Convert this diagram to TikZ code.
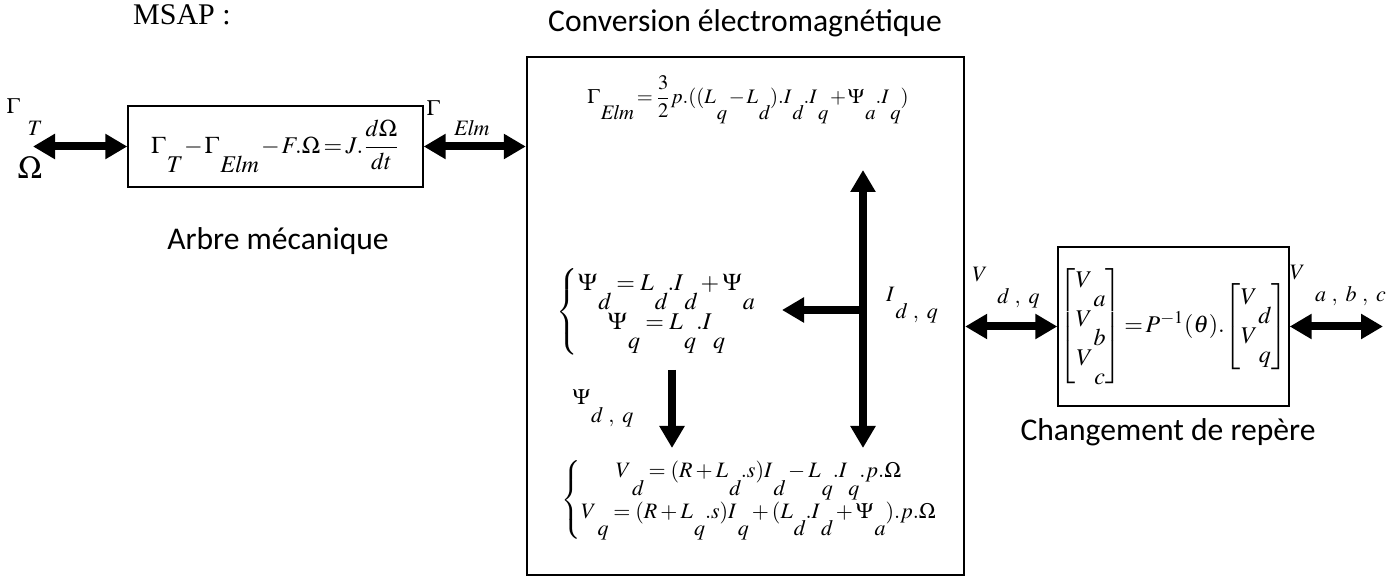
\documentclass[tikz,border=0pt]{standalone}
\usepackage{amsmath}
\usepackage{mathptmx}
\usepackage[no-math]{fontspec}
\setmainfont{Liberation Serif}
\newfontfamily\calib{Carlito}
\usetikzlibrary{arrows.meta}
\newcommand\lo[2][.8em]{\kern.05em\lower#1\hbox{$\mathit{#2}$}}
\newcommand\tight{\medmuskip=1.5mu\thickmuskip=2.5mu}
\tikzset{
 dbl/.style={{Triangle[length=11pt,width=12pt]}-{Triangle[length=11pt,width=12pt]},line width=4pt},
 sgl/.style={-{Triangle[length=11pt,width=12pt]},line width=4pt},
 lbl/.style={font=\calib\fontsize{15.8}{18}\selectfont},
 blk/.style={draw,line width=.7pt,inner sep=0pt}
}
\begin{document}
\begin{tikzpicture}[x=.5pt,y=-.5pt,font=\fontsize{11}{13}\selectfont]
 \useasboundingbox (0,0) rectangle (1398,576);
 \node[font=\fontsize{15}{17}\selectfont] (msap) at (182,15) {MSAP :};
 % arbre mecanique
 \node[blk,minimum width=147.5pt,minimum height=40.5pt,font=\fontsize{12}{14}\selectfont] (meca) at (275.5,146.5) {$\tight\Gamma\lo{T}-\Gamma\lo{Elm}-F.\Omega=J.\dfrac{d\Omega}{dt}$};
 \node[lbl] (tmeca) at (278,241) {Arbre mécanique};
 \node (gt) at (24,117) {$\Gamma\kern.3em\lo[1em]{T}$};
 \node[font=\fontsize{16}{18}\selectfont] (om) at (30,168) {$\Omega$};
 \node (ge) at (458,118) {$\Gamma\kern.6em\lo[.9em]{Elm}$};
 \coordinate (ext) at (33,147);
 \draw[dbl] (ext |- meca.west) -- (meca.west);
 % conversion
 \node[blk,line width=1.2pt,minimum width=218.5pt,minimum height=259pt] (conv) at (745.5,316) {};
 \node[lbl] (tconv) at (745,23) {Conversion électromagnétique};
 \draw[dbl] (meca.east) -- (meca.east -| conv.west);
 \node[font=\fontsize{10.3}{12}\selectfont] (gam) at (748,100) {$\tight\Gamma\lo{Elm}=\dfrac{3}{2}p.((L\lo{q}-L\lo{d}).I\lo{d}.I\lo{q}+\Psi\lo{a}.I\lo{q})$};
 \node[font=\fontsize{12}{14}\selectfont] (psi) at (657,312) {$\left\{\begin{array}{@{}c@{}}\Psi\lo{d}=L\lo{d}.I\lo{d}+\Psi\lo{a}\\ \Psi\lo{q}=L\lo{q}.I\lo{q}\end{array}\right.$};
 \node (volt) at (750,500) {$\left\{\begin{array}{@{}c@{}}V\lo{d}=(R+L\lo{d}.s)I\lo{d}-L\lo{q}.I\lo{q}.p.\Omega\\ V\lo{q}=(R+L\lo{q}.s)I\lo{q}+(L\lo{d}.I\lo{d}+\Psi\lo{a}).p.\Omega\end{array}\right.$};
 \coordinate (itop) at (863,170);
 \coordinate (ibot) at (863,448);
 \coordinate (ibr) at (863,310);
 \coordinate (psia) at (782,310);
 \coordinate (psib) at (672,370);
 \coordinate (psic) at (672,448);
 \draw[dbl] (itop) -- (ibot);
 \draw[sgl] (ibr) -- (psia);
 \draw[sgl] (psib) -- (psic);
 \node (ilab) at (912,305) {$I\lo{d\ ,\ q}$};
 \node (plab) at (603,408) {$\Psi\lo{d\ ,\ q}$};
 % changement de repere
 \node[blk,minimum width=115.5pt,minimum height=79.5pt,font=\fontsize{12}{14}\selectfont] (rep) at (1173.5,326.5) {\setlength\arraycolsep{1pt}$\begin{bmatrix}V\lo{a}\\V\lo{b}\\V\lo{c}\end{bmatrix}\!=\!P^{-1}(\theta).\!\begin{bmatrix}V\lo{d}\\V\lo{q}\end{bmatrix}$};
 \node[lbl] (trep) at (1168,432) {Changement de repère};
 \coordinate (vout) at (1383,326.5);
 \draw[dbl] (rep.west -| conv.east) -- (rep.west);
 \draw[dbl] (rep.east) -- (vout);
 \node (vdq) at (1006,288) {$V\kern.4em\lo[1em]{d\ ,\ q}$};
 \node (vabc) at (1338,286) {$V\kern.4em\lo[1em]{a\ ,\ b\ ,\ c}$};
\end{tikzpicture}
\end{document}
